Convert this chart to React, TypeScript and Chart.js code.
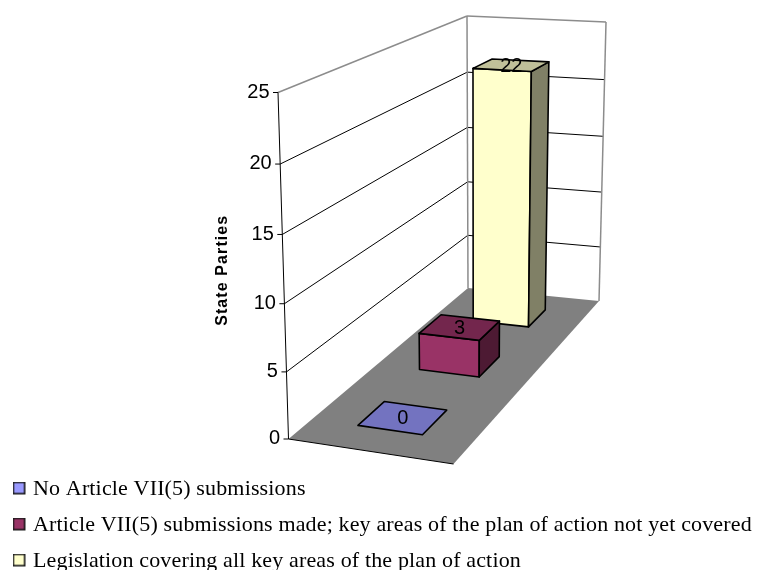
import React, { useEffect, useRef } from "react";
import { Chart, registerables, LinearScale } from "chart.js";

const seriesNames = [
  "No Article VII(5) submissions",
  "Article VII(5) submissions made; key areas of the plan of action not yet covered",
  "Legislation covering all key areas of the plan of action",
];
const seriesValues = [[0], [3], [22]];
const seriesFill = ["#9999FF", "#993366", "#FFFFCC"];
const seriesTop = ["#7373C0", "#73264D", "#C0C099"];
const seriesSide = ["#4D4D80", "#4D1A33", "#808066"];
const categories = [""];
const axisTitle = "State Parties";

type Pt = [number, number];
// Projected corners of the 3-D box: floor and ceiling, [front-left, front-right, back-right, back-left]
const FLOOR: Pt[] = [[288.5, 439], [453.5, 464], [599, 301], [468, 288]];
const CEIL: Pt[] = [[278, 92.5], [454, 103], [606, 22], [467, 16]];
const BAR_U = [0.293, 0.695];
const depthStart = [0.105, 0.427, 0.765];
const DEPTH_W = 0.13;
const PERSPECTIVE = 1.041;

function homography(q: Pt[]) {
  const [[x0, y0], [x1, y1], [x2, y2], [x3, y3]] = q;
  const dx1 = x1 - x2, dx2 = x3 - x2, sx = x0 - x1 + x2 - x3;
  const dy1 = y1 - y2, dy2 = y3 - y2, sy = y0 - y1 + y2 - y3;
  const den = dx1 * dy2 - dx2 * dy1;
  const g = (sx * dy2 - dx2 * sy) / den;
  const h = (dx1 * sy - sx * dy1) / den;
  const a = x1 - x0 + g * x1, b = x3 - x0 + h * x3;
  const d = y1 - y0 + g * y1, e = y3 - y0 + h * y3;
  return (u: number, v: number): Pt => {
    const w = g * u + h * v + 1;
    return [(a * u + b * v + x0) / w, (d * u + e * v + y0) / w];
  };
}
const floorAt = homography(FLOOR);
const ceilAt = homography(CEIL);
const project = (u: number, v: number, f: number): Pt => {
  const p = floorAt(u, v), q = ceilAt(u, v);
  return [p[0] + (q[0] - p[0]) * f, p[1] + (q[1] - p[1]) * f];
};

class PerspectiveScale extends LinearScale {
  static id = "perspective";
  static defaults = LinearScale.defaults;
  getPixelForValue(value: number) {
    const t = (value - this.min) / (this.max - this.min);
    const f = t / (t + (1 - t) * PERSPECTIVE);
    return this.bottom - f * (this.bottom - this.top);
  }
  _computeLabelItems(area: any) {
    const items = super._computeLabelItems(area);
    for (const it of items) {
      const y = it.options.translation[1];
      const f = (this.bottom - y) / (this.bottom - this.top);
      it.options.translation = [FLOOR[0][0] + (CEIL[0][0] - FLOOR[0][0]) * f - 8.5, y];
    }
    return items;
  }
  drawTitle() {
    const ctx: any = this.ctx;
    ctx.save();
    ctx.translate(5, 5);
    ctx.letterSpacing = "1.1px";
    super.drawTitle();
    ctx.restore();
  }
}

Chart.register(...registerables, PerspectiveScale);

function poly(ctx: any, pts: Pt[], fill?: string) {
  ctx.beginPath();
  pts.forEach((p, i) => (i ? ctx.lineTo(p[0], p[1]) : ctx.moveTo(p[0], p[1])));
  ctx.closePath();
  if (fill) {
    ctx.fillStyle = fill;
    ctx.fill();
  }
}
function seg(ctx: any, a: Pt, b: Pt, color: string, w = 1) {
  ctx.strokeStyle = color;
  ctx.lineWidth = w;
  ctx.beginPath();
  ctx.moveTo(a[0], a[1]);
  ctx.lineTo(b[0], b[1]);
  ctx.stroke();
}
function swatch(color: string) {
  const c = document.createElement("canvas");
  c.width = 15;
  c.height = 15;
  const g = c.getContext("2d")!;
  g.fillStyle = color;
  g.fillRect(0, 0, 13, 13);
  g.strokeStyle = "#1a1a1a";
  g.lineWidth = 1.6;
  g.strokeRect(0.8, 0.8, 11.4, 11.4);
  return c;
}

const box3d = {
  id: "box3d",
  afterLayout(chart: any) {
    const l = chart.legend;
    l.left = 4;
    l.right = 758;
    l.top = 464;
    l.bottom = 570;
    if (!l.__spaced) {
      l.__spaced = true;
      const draw = l.draw.bind(l);
      l.draw = () => {
        chart.ctx.save();
        chart.ctx.letterSpacing = "0.15px";
        draw();
        chart.ctx.restore();
      };
    }
  },
  beforeDatasetsDraw(chart: any) {
    const { ctx } = chart;
    const y = chart.scales.y;
    const frac = (v: number) => (y.bottom - y.getPixelForValue(v)) / (y.bottom - y.top);
    ctx.save();
    ctx.lineJoin = "round";
    // walls
    poly(ctx, [FLOOR[0], FLOOR[3], CEIL[3], CEIL[0]], "#FFFFFF");
    poly(ctx, [FLOOR[3], FLOOR[2], CEIL[2], CEIL[3]], "#FFFFFF");
    poly(ctx, FLOOR, "#808080");
    // grid lines from the axis ticks
    for (const t of y.ticks) {
      const f = frac(t.value);
      const a = project(0, 0, f), b = project(0, 1, f), c = project(1, 1, f);
      if (t.value > 0 && t.value < y.max) {
        seg(ctx, a, b, "#000000");
        seg(ctx, b, c, "#000000");
      }
      seg(ctx, [a[0] - 5, a[1]], a, "#000000");
    }
    const gray = "#8C8C8C";
    seg(ctx, CEIL[0], CEIL[3], gray, 1.5);
    seg(ctx, CEIL[3], CEIL[2], gray, 1.5);
    seg(ctx, CEIL[3], FLOOR[3], gray, 1.5);
    seg(ctx, CEIL[2], FLOOR[2], gray, 1.5);
    seg(ctx, FLOOR[0], CEIL[0], "#000000", 1);
    seg(ctx, FLOOR[0], FLOOR[1], "#000000", 1);
    // bars, back to front
    const labels: [string, Pt][] = [];
    for (let i = chart.data.datasets.length - 1; i >= 0; i--) {
      const ds = chart.data.datasets[i];
      const value = ds.data[0];
      const f = frac(value);
      const [u0, u1] = BAR_U;
      const v0 = depthStart[i], v1 = v0 + DEPTH_W;
      const P = (u: number, v: number, h: number) => project(u, v, h);
      ctx.strokeStyle = "#000000";
      ctx.lineWidth = 1.6;
      if (value > 0) {
        poly(ctx, [P(u0, v0, 0), P(u1, v0, 0), P(u1, v0, f), P(u0, v0, f)], ds.backgroundColor);
        ctx.stroke();
        poly(ctx, [P(u1, v0, 0), P(u1, v1, 0), P(u1, v1, f), P(u1, v0, f)], seriesSide[i]);
        ctx.stroke();
      }
      poly(ctx, [P(u0, v0, f), P(u1, v0, f), P(u1, v1, f), P(u0, v1, f)], seriesTop[i]);
      ctx.stroke();
      labels.push([String(value), P((u0 + u1) / 2, (v0 + v1) / 2, f)]);
    }
    ctx.fillStyle = "#000000";
    ctx.font = "20px 'Liberation Sans'";
    ctx.textAlign = "center";
    ctx.textBaseline = "middle";
    for (const [text, p] of labels) ctx.fillText(text, p[0], p[1] + 1);
    ctx.restore();
    return false;
  },
};

export default function App() {
  const ref = useRef<HTMLCanvasElement>(null);
  useEffect(() => {
    const chart = new Chart(ref.current!, {
      type: "bar",
      data: {
        labels: categories,
        datasets: seriesNames.map((label, i) => ({
          label,
          data: seriesValues[i],
          backgroundColor: seriesFill[i],
          borderColor: "#000000",
          borderWidth: 1.5,
        })),
      },
      options: {
        responsive: false,
        animation: false,
        layout: { padding: { left: 208, top: 92.5, bottom: 14, right: 0 } },
        plugins: {
          tooltip: { enabled: false },
          legend: {
            position: "bottom",
            align: "start",
            labels: {
              usePointStyle: true,
              pointStyleWidth: 4,
              boxHeight: 13,
              padding: 14,
              color: "#000000",
              font: { family: "'Liberation Serif'", size: 22 },
              generateLabels(c: any) {
                const items = Chart.defaults.plugins.legend.labels.generateLabels(c);
                items.forEach((it: any, i: number) => (it.pointStyle = swatch(seriesFill[i])));
                return items;
              },
            },
          },
        },
        scales: {
          x: { type: "category", display: false },
          y: {
            type: "perspective",
            min: 0,
            max: 25,
            afterFit(s: any) {
              s.width = 72;
            },
            grid: { display: false },
            border: { display: false },
            ticks: {
              stepSize: 5,
              color: "#000000",
              font: { family: "'Liberation Sans'", size: 20 },
            },
            title: {
              display: true,
              text: axisTitle,
              color: "#000000",
              font: { family: "'Liberation Sans'", size: 16, weight: "bold" },
              padding: 0,
            },
          },
        },
      },
      plugins: [box3d],
    } as any);
    return () => chart.destroy();
  }, []);
  return (
    <div style={{ position: "fixed", left: 0, top: 0, width: 758, height: 570, background: "#fff" }}>
      <canvas ref={ref} width={758} height={570} style={{ display: "block" }} />
    </div>
  );
}
